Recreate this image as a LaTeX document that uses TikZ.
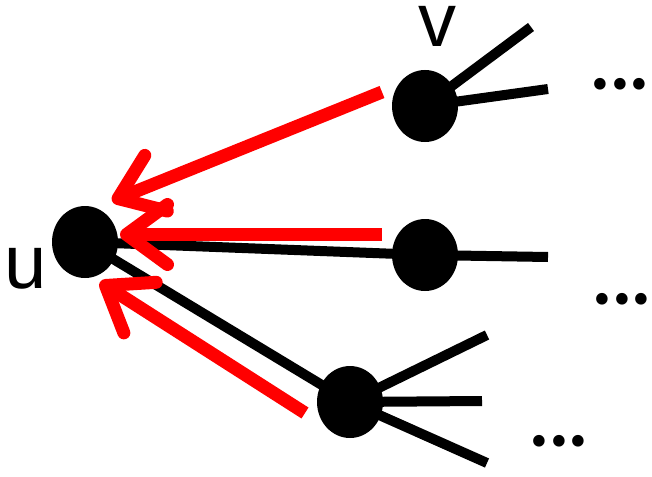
\documentclass[tikz,border=0pt]{standalone}
\usepackage{fontspec}
\setmainfont{Liberation Sans}
\newfontfamily\dotfont{Poppins}
\usetikzlibrary{shapes.geometric,arrows.meta,backgrounds}
\begin{document}
\begin{tikzpicture}[x=1pt,y=-1pt,
  vert/.style={ellipse,fill=black,draw=none,minimum width=66pt,minimum height=72pt,inner sep=0pt},
  blk/.style={line width=10pt,black},
  redarrow/.style={line width=13pt,red,-{Straight Barb[length=41pt,width=60pt,round]}},
  lab/.style={font=\fontsize{76}{80}\selectfont,anchor=base,inner sep=0pt},
  dots/.style={font=\dotfont\fontsize{94}{98}\selectfont,anchor=base,inner sep=0pt}]
\useasboundingbox (0,0) rectangle (652,476);
% vertices
\node[vert] (u) at (85,242) {};
\node[vert] (v) at (425,106) {};
\node[vert] (m) at (425,255) {};
\node[vert] (b) at (350,402) {};
% branch ends
\coordinate (v1) at (531,27);
\coordinate (v2) at (548,89);
\coordinate (m1) at (548,257);
\coordinate (b1) at (487,335);
\coordinate (b2) at (482,401);
\coordinate (b3) at (487,463);
% red arrow ends
\coordinate (r1s) at (382,92);
\coordinate (r1t) at (112,201);
\coordinate (r2s) at (382,234.5);
\coordinate (r2t) at (120,234.5);
\coordinate (r3s) at (305,413);
\coordinate (r3t) at (100,282);
\begin{scope}[on background layer]
\draw[blk] (u.center) -- (m.center);
\draw[blk] (u.center) -- (b.center);
\draw[blk] (v.center) -- (v1);
\draw[blk] (v.center) -- (v2);
\draw[blk] (m.center) -- (m1);
\draw[blk] (b.center) -- (b1);
\draw[blk] (b.center) -- (b2);
\draw[blk] (b.center) -- (b3);
\end{scope}
\draw[redarrow] (r1s) -- (r1t);
\draw[redarrow] (r2s) -- (r2t);
\draw[redarrow] (r3s) -- (r3t);
% labels
\node[lab] (lu) at (26,288) {u};
\node[lab] (lv) at (437,47) {v};
\node[dots] (d1) at (620,89) {...};
\node[dots] (d2) at (622,304) {...};
\node[dots] (d3) at (559,446) {...};
\end{tikzpicture}
\end{document}
